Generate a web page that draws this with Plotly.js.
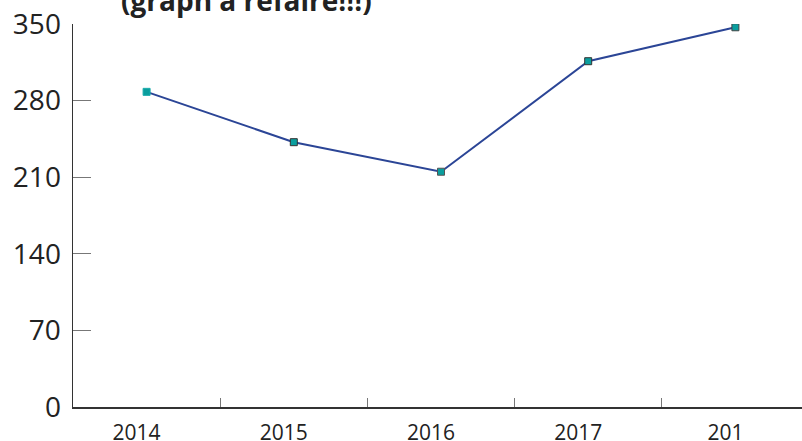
<!DOCTYPE html>
<html>
<head>
<meta charset="utf-8">
<script src="https://cdn.plot.ly/plotly-3.0.1.min.js"></script>
<style>
html,body{margin:0;padding:0;overflow:hidden;background:#fff;}
#chart{width:810px;height:441px;}
</style>
</head>
<body>
<div id="chart"></div>
<script>
var years = ["2014", "2015", "2016", "2017", "2018"];
var values = [288, 242, 215, 316, 347];
var xTickLabels = ["2014", "2015", "2016", "2017", "201"];
var yTicks = [0, 70, 140, 210, 280, 350];
var titleText = "(graph à refaire!!!)";

var trace = {
  type: "scatter",
  mode: "lines+markers",
  x: years,
  y: values,
  line: {color: "#2b4596", width: 2},
  marker: {
    symbol: "square",
    size: 7,
    color: "#0a9e9e",
    line: {color: ["#1aacac", "#333333", "#555555", "#333333", "#444444"], width: 1}
  },
  hoverinfo: "x+y"
};

var layout = {
  width: 810,
  height: 441,
  margin: {l: 73, r: 1, t: 24, b: 34},
  paper_bgcolor: "#ffffff",
  plot_bgcolor: "#ffffff",
  showlegend: false,
  title: {
    text: "<b>" + titleText + "</b>",
    font: {family: "Open Sans", size: 28, color: "#222222"},
    xref: "container",
    yref: "container",
    x: 121 / 810,
    xanchor: "left",
    y: 1 - 11 / 441,
    yanchor: "bottom"
  },
  xaxis: {
    type: "category",
    categoryorder: "array",
    categoryarray: years,
    tickvals: years,
    ticktext: xTickLabels,
    range: [-0.5, 4.5],
    tickson: "boundaries",
    ticks: "inside",
    ticklen: 9,
    tickwidth: 1,
    tickcolor: "#777777",
    showline: true,
    linecolor: "#333333",
    linewidth: 1.5,
    showgrid: false,
    zeroline: false,
    ticklabelshift: -10,
    ticklabelstandoff: 6,
    tickfont: {family: "Open Sans", size: 21, color: "#222222"},
    fixedrange: true
  },
  yaxis: {
    range: [0, 350],
    tickvals: yTicks,
    ticktext: yTicks.map(String),
    ticks: "inside",
    ticklen: 18,
    tickwidth: 1,
    tickcolor: "#777777",
    showline: true,
    linecolor: "#333333",
    linewidth: 1.5,
    showgrid: false,
    zeroline: false,
    ticklabelstandoff: 5,
    tickfont: {family: "Open Sans", size: 28, color: "#222222"},
    fixedrange: true
  }
};

Plotly.newPlot("chart", [trace], layout, {displayModeBar: false, staticPlot: true});
</script>
</body>
</html>
